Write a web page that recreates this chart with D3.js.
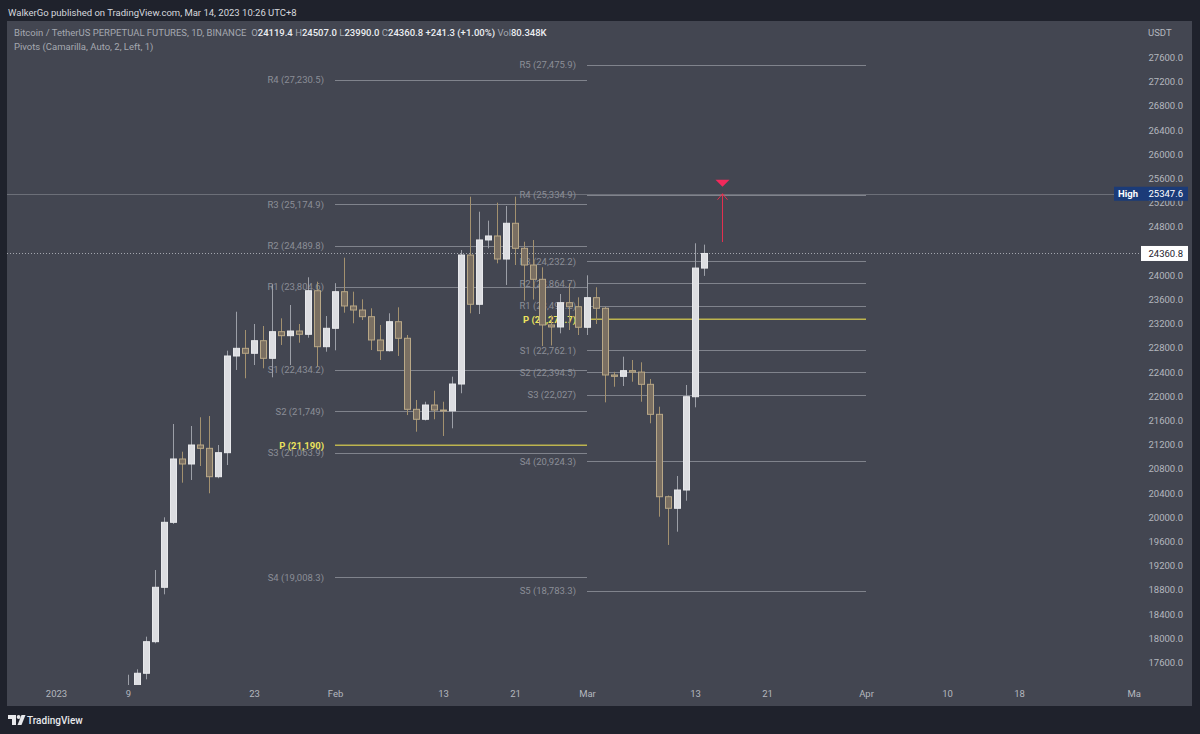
<!DOCTYPE html>
<html>
<head>
<meta charset="utf-8">
<script src="https://cdn.jsdelivr.net/npm/d3@7"></script>
<style>
  body { margin: 0; padding: 0; background: #1f222c; }
  text { font-family: Roboto, "Noto Sans", sans-serif; }
</style>
</head>
<body>
<script>
const width = 1200;
const height = 734;

// Daily candles (BTCUSDT perpetual, 1D)
const dates = [
  "2023-01-09","2023-01-10","2023-01-11","2023-01-12","2023-01-13","2023-01-14","2023-01-15","2023-01-16",
  "2023-01-17","2023-01-18","2023-01-19","2023-01-20","2023-01-21","2023-01-22","2023-01-23","2023-01-24",
  "2023-01-25","2023-01-26","2023-01-27","2023-01-28","2023-01-29","2023-01-30","2023-01-31","2023-02-01",
  "2023-02-02","2023-02-03","2023-02-04","2023-02-05","2023-02-06","2023-02-07","2023-02-08","2023-02-09",
  "2023-02-10","2023-02-11","2023-02-12","2023-02-13","2023-02-14","2023-02-15","2023-02-16","2023-02-17",
  "2023-02-18","2023-02-19","2023-02-20","2023-02-21","2023-02-22","2023-02-23","2023-02-24","2023-02-25",
  "2023-02-26","2023-02-27","2023-02-28","2023-03-01","2023-03-02","2023-03-03","2023-03-04","2023-03-05",
  "2023-03-06","2023-03-07","2023-03-08","2023-03-09","2023-03-10","2023-03-11","2023-03-12","2023-03-13",
  "2023-03-14"
];
const opens = [
  17127, 17178, 17422, 17944, 18843, 19917, 20964, 20881,
  21195, 21140, 20671, 21068, 22666, 22793, 22711, 22919,
  22628, 23068, 23002, 23079, 23025, 23745, 22820, 23124,
  23729, 23493, 23426, 23316, 22931, 22754, 23233, 22959,
  21785, 21620, 21856, 21773, 21760, 22203, 24335, 23521,
  24584, 24650, 24269, 24860, 24446, 24170, 23934, 23179,
  23146, 23547, 23481, 23141, 23630, 23455, 22352, 22330,
  22424, 22400, 22198, 21702, 20340, 20149, 20451, 21993,
  24119.4
];
const highs = [
  17398, 17488, 18027, 19129, 20000, 21542, 21084, 21509,
  21653, 21674, 21195, 22754, 23398, 23096, 23195, 23162,
  23850, 23289, 23509, 23195, 23967, 23894, 23327, 23870,
  24291, 23729, 23603, 23455, 23179, 23372, 23471, 23013,
  21939, 21910, 22092, 21910, 22324, 24418, 25299, 25051,
  24903, 25200, 25145, 25300, 24555, 24583, 24132, 23340,
  23691, 23867, 23636, 24000, 23802, 23480, 22405, 22655,
  22600, 22562, 22286, 21828, 20360, 20683, 22187, 24529,
  24507.0
];
const lows = [
  17090, 17140, 17322, 17917, 18727, 19890, 20572, 20617,
  20848, 20397, 20645, 20864, 22435, 22298, 22517, 22463,
  22314, 22848, 22517, 22886, 22969, 22489, 22737, 22760,
  23382, 23207, 23261, 22765, 22600, 22740, 22667, 21690,
  21415, 21600, 21620, 21344, 21471, 22050, 23372, 23360,
  24446, 24198, 23840, 24170, 23580, 23600, 22830, 22840,
  23041, 23096, 23013, 23013, 23195, 21900, 22158, 22170,
  22241, 21910, 21554, 20010, 19543, 19762, 20274, 21818,
  23990.0
];
const closes = [
  17178, 17422, 17944, 18843, 19917, 20964, 20881, 21195,
  21140, 20671, 21068, 22666, 22793, 22711, 22919, 22628,
  23068, 23002, 23079, 23025, 23745, 22820, 23124, 23729,
  23493, 23426, 23316, 22931, 22754, 23233, 22959, 21785,
  21620, 21856, 21773, 21760, 22203, 24335, 23521, 24584,
  24650, 24269, 24860, 24446, 24170, 23934, 23179, 23146,
  23547, 23481, 23141, 23630, 23455, 22352, 22330, 22424,
  22400, 22198, 21702, 20340, 20149, 20451, 21993, 24119.4,
  24360.8
];

// Camarilla pivots, one set per month
const febPivotStart = "2023-02-01", febPivotEnd = "2023-03-01";
const febPivotNames = ["R4", "R3", "R2", "R1", "S1", "S2", "S3", "S4"];
const febPivotValues = [27230.5, 25174.9, 24489.8, 23804.6, 22434.2, 21749, 21063.9, 19008.3];
const febPivotP = 21190;

const marPivotStart = "2023-03-01", marPivotEnd = "2023-04-01";
const marPivotNames = ["R5", "R4", "R3", "R2", "R1", "S1", "S2", "S3", "S4", "S5"];
const marPivotValues = [27475.9, 25334.9, 24232.2, 23864.7, 23497.2, 22762.1, 22394.5, 22027, 20924.3, 18783.3];
const marPivotP = 23271.7;

// markers
const highValue = 25347.6;
const arrowDate = "2023-03-16";
const arrowFrom = 24550;

// axis ticks
const timeTicks = ["2023-01-01","2023-01-09","2023-01-23","2023-02-01","2023-02-13","2023-02-21",
  "2023-03-01","2023-03-13","2023-03-21","2023-04-01","2023-04-10","2023-04-18","2023-05-01"];
const timeTickLabels = ["2023","9","23","Feb","13","21","Mar","13","21","Apr","10","18","May"];
const priceTicks = d3.range(17600, 27601, 400);

const parse = d3.utcParse("%Y-%m-%d");

// layout of the chart panel
const panel = {left: 7, top: 21, right: 1192, bottom: 706};
const plot = {left: 7, top: 21, right: 1141, bottom: 685};

const x = d3.scaleUtc()
  .domain([parse("2023-01-01"), parse("2023-05-01")])
  .range([56, 1136]);
const y = d3.scaleLinear()
  .domain([17600, 27600])
  .range([662.5, 57.5]);

const svg = d3.select("body").append("svg")
  .attr("width", width)
  .attr("height", height)
  .style("display", "block");

svg.append("rect").attr("width", width).attr("height", height).attr("fill", "#1f222c");
svg.append("rect")
  .attr("x", panel.left).attr("y", panel.top)
  .attr("width", panel.right - panel.left).attr("height", panel.bottom - panel.top)
  .attr("fill", "#434651");

const defs = svg.append("defs");
defs.append("clipPath").attr("id", "plot-clip").append("rect")
  .attr("x", plot.left).attr("y", plot.top)
  .attr("width", plot.right - plot.left).attr("height", plot.bottom - plot.top);
defs.append("clipPath").attr("id", "time-clip").append("rect")
  .attr("x", plot.left).attr("y", plot.bottom)
  .attr("width", plot.right - plot.left).attr("height", panel.bottom - plot.bottom);

const chart = svg.append("g").attr("clip-path", "url(#plot-clip)");

// full-width lines: session high and last price
chart.append("line")
  .attr("x1", plot.left).attr("x2", 1114)
  .attr("y1", Math.round(y(highValue)) + 0.5).attr("y2", Math.round(y(highValue)) + 0.5)
  .attr("stroke", "#6c6f78").attr("stroke-width", 1);
chart.append("line")
  .attr("x1", plot.left).attr("x2", plot.right)
  .attr("y1", Math.round(y(closes[closes.length - 1])) + 0.5).attr("y2", Math.round(y(closes[closes.length - 1])) + 0.5)
  .attr("stroke", "#a3a6ae").attr("stroke-width", 1).attr("stroke-dasharray", "1,2");

// pivot levels
function drawPivots(start, end, names, values, p) {
  const x0 = x(parse(start)), x1 = x(parse(end));
  const g = chart.append("g");
  const levels = names.map((n, i) => ({name: n, value: values[i]}));

  g.selectAll(".pivot-line")
    .data(levels)
    .enter().append("line")
    .attr("class", "pivot-line")
    .attr("x1", x0).attr("x2", x1)
    .attr("y1", d => Math.round(y(d.value)) + 0.5)
    .attr("y2", d => Math.round(y(d.value)) + 0.5)
    .attr("stroke", "#80838c").attr("stroke-width", 1);

  g.selectAll(".pivot-label")
    .data(levels)
    .enter().append("text")
    .attr("class", "pivot-label")
    .attr("x", x0 - 11)
    .attr("y", d => y(d.value))
    .attr("dy", "0.35em")
    .attr("text-anchor", "end")
    .attr("font-size", "9.5px")
    .attr("fill", "#8b8e97")
    .text(d => `${d.name} (${d3.format(",")(d.value)})`);

  g.append("line")
    .attr("x1", x0).attr("x2", x1)
    .attr("y1", y(p)).attr("y2", y(p))
    .attr("stroke", "#bdb44f").attr("stroke-width", 1.5);
  g.append("text")
    .attr("x", x0 - 11).attr("y", y(p)).attr("dy", "0.35em")
    .attr("text-anchor", "end")
    .attr("font-size", "9.5px").attr("font-weight", "bold")
    .attr("fill", "#ece35e")
    .text(`P (${d3.format(",")(p)})`);
}
drawPivots(febPivotStart, febPivotEnd, febPivotNames, febPivotValues, febPivotP);
drawPivots(marPivotStart, marPivotEnd, marPivotNames, marPivotValues, marPivotP);

// candles
const candles = dates.map((d, i) => ({
  date: parse(d), o: opens[i], h: highs[i], l: lows[i], c: closes[i]
}));
const upBody = "#dcdde1", downBody = "#7a6f62", downBorder = "#b9a887";
const upWick = "#9c9fa7", downWick = "#a3916f";

const candle = chart.selectAll(".candle")
  .data(candles)
  .enter().append("g")
  .attr("class", "candle")
  .attr("transform", d => `translate(${Math.round(x(d.date)) + 0.5},0)`);

candle.append("line")
  .attr("y1", d => y(d.h)).attr("y2", d => y(d.l))
  .attr("stroke", d => d.c >= d.o ? upWick : downWick)
  .attr("stroke-width", 1);

candle.append("rect")
  .attr("x", -3)
  .attr("width", 6)
  .attr("y", d => y(Math.max(d.o, d.c)))
  .attr("height", d => Math.max(1, Math.abs(y(d.o) - y(d.c))))
  .attr("fill", d => d.c >= d.o ? upBody : downBody)
  .attr("stroke", d => d.c >= d.o ? "#e8e9ec" : downBorder)
  .attr("stroke-width", 1);

// arrow and signal marker
const ax = Math.round(x(parse(arrowDate))) + 0.5;
const ay = y(highValue);
chart.append("line")
  .attr("x1", ax).attr("x2", ax)
  .attr("y1", y(arrowFrom)).attr("y2", ay)
  .attr("stroke", "#e3304f").attr("stroke-width", 1);
chart.append("path")
  .attr("d", `M${ax - 5},${ay + 6}L${ax},${ay}L${ax + 5},${ay + 6}`)
  .attr("fill", "none").attr("stroke", "#e3304f").attr("stroke-width", 1);
chart.append("path")
  .attr("d", `M${ax - 7},${ay - 14}L${ax + 7},${ay - 14}L${ax},${ay - 7}Z`)
  .attr("fill", "#f2295b");

// price axis
const yAxis = svg.append("g")
  .attr("transform", `translate(1183,0)`)
  .call(d3.axisRight(y).tickValues(priceTicks).tickSize(0).tickPadding(0).tickFormat(d3.format(".1f")));
yAxis.select(".domain").remove();
yAxis.selectAll("text")
  .attr("text-anchor", "end")
  .attr("font-family", "Roboto, sans-serif")
  .attr("font-size", "9.5px")
  .attr("fill", "#b4b7bf");

svg.append("text")
  .attr("x", 1148).attr("y", 33).attr("dy", "0.35em")
  .attr("font-size", "9.5px").attr("fill", "#b4b7bf")
  .text("USDT");

// high label
const hy = y(highValue);
svg.append("rect")
  .attr("x", 1114).attr("y", hy - 7).attr("width", 74).attr("height", 14)
  .attr("fill", "#1b3b78");
svg.append("text")
  .attr("x", 1118).attr("y", hy).attr("dy", "0.35em")
  .attr("font-size", "9.5px").attr("font-weight", "bold").attr("fill", "#ffffff")
  .text("High");
svg.append("text")
  .attr("x", 1183).attr("y", hy).attr("dy", "0.35em")
  .attr("text-anchor", "end")
  .attr("font-size", "9.5px").attr("fill", "#ffffff")
  .text(d3.format(".1f")(highValue));

// last price label
const lastClose = closes[closes.length - 1];
const ly = y(lastClose);
svg.append("rect")
  .attr("x", 1141).attr("y", ly - 7.5).attr("width", 47).attr("height", 15)
  .attr("fill", "#ffffff");
svg.append("text")
  .attr("x", 1183).attr("y", ly).attr("dy", "0.35em")
  .attr("text-anchor", "end")
  .attr("font-size", "9.5px").attr("fill", "#1e222d")
  .text(d3.format(".1f")(lastClose));

// time axis
const xAxis = svg.append("g")
  .attr("clip-path", "url(#time-clip)")
  .append("g")
  .attr("transform", `translate(0,${plot.bottom})`)
  .call(d3.axisBottom(x)
    .tickValues(timeTicks.map(parse))
    .tickSize(0).tickPadding(5)
    .tickFormat((d, i) => timeTickLabels[i]));
xAxis.select(".domain").remove();
xAxis.selectAll("text")
  .attr("font-family", "Roboto, sans-serif")
  .attr("font-size", "9.5px")
  .attr("fill", "#b4b7bf");

// header
svg.append("text")
  .attr("x", 8).attr("y", 13).attr("dy", "0.35em")
  .attr("font-size", "9.5px").attr("fill", "#d6d8de")
  .text("WalkerGo published on TradingView.com, Mar 14, 2023 10:26 UTC+8");

const last = candles[candles.length - 1];
const f1 = d3.format(".1f");
const gray = "#a5a8b0", bright = "#eceef2";
const legendParts = [
  ["Bitcoin / TetherUS PERPETUAL FUTURES, 1D, BINANCE\u00a0\u00a0", gray],
  ["O", gray], [f1(last.o), bright],
  [" H", gray], [f1(last.h), bright],
  [" L", gray], [f1(last.l), bright],
  [" C", gray], [f1(last.c), bright],
  [" +241.3 (+1.00%)", bright],
  [" Vol", gray], ["80.348K", bright]
];
const legend = svg.append("text")
  .attr("x", 14).attr("y", 33).attr("dy", "0.35em")
  .attr("font-size", "9.5px");
legend.selectAll("tspan")
  .data(legendParts)
  .enter().append("tspan")
  .attr("fill", d => d[1])
  .attr("font-weight", d => d[1] === bright ? "500" : "normal")
  .text(d => d[0]);

svg.append("text")
  .attr("x", 14).attr("y", 47).attr("dy", "0.35em")
  .attr("font-size", "9.5px").attr("fill", gray)
  .text("Pivots (Camarilla, Auto, 2, Left, 1)");

// TradingView logo
const logo = svg.append("g").attr("fill", "#e8e9ec");
logo.append("path").attr("d", "M8,715h8v10h-4v-6h-4z");
logo.append("circle").attr("cx", 18.6).attr("cy", 717).attr("r", 1.9);
logo.append("path").attr("d", "M21.5,715h4l-4,10h-4z");
logo.append("text")
  .attr("x", 27).attr("y", 720).attr("dy", "0.35em")
  .attr("font-size", "10px").attr("font-weight", "500")
  .text("TradingView");
</script>
</body>
</html>
